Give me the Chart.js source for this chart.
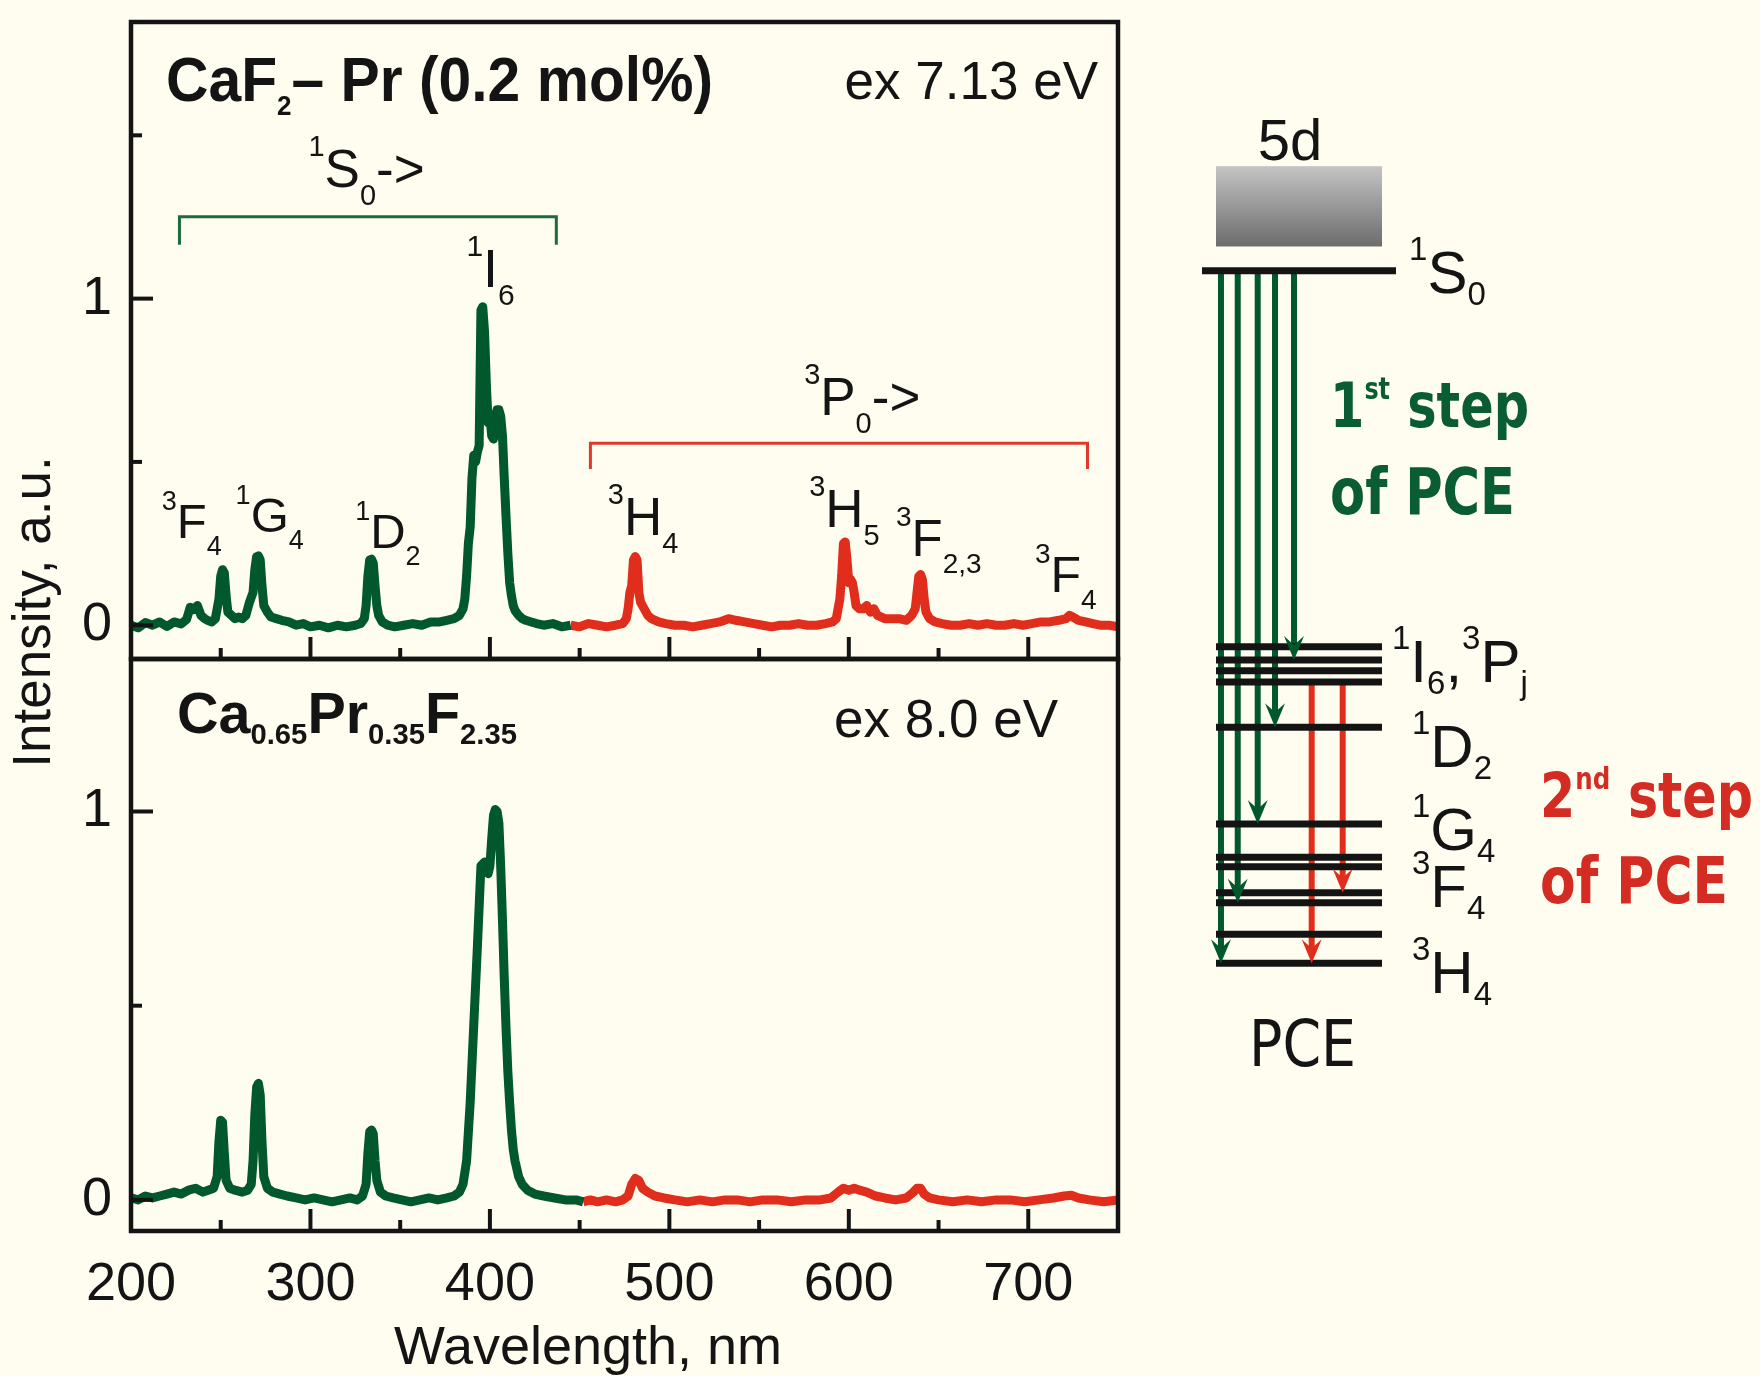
<!DOCTYPE html>
<html>
<head>
<meta charset="utf-8">
<script src="https://cdn.jsdelivr.net/npm/chart.js@4.4.0/dist/chart.umd.min.js"></script>
<style>
  html, body { margin: 0; padding: 0; background: #fffdf0; }
  #wrap { position: relative; width: 1760px; height: 1376px; }
  #wrap canvas { position: absolute; left: 0; top: 0; }
</style>
</head>
<body>
<div id="wrap">
  <canvas id="topChart" width="1760" height="1376"></canvas>
  <canvas id="bottomChart" width="1760" height="1376"></canvas>
  <canvas id="levelChart" width="1760" height="1376"></canvas>
</div>
<script>
const FONT = "'Liberation Sans', Arial, Helvetica, sans-serif";
const COMIC = "'DejaVu Sans', sans-serif";
const GREEN = '#00582c';
const RED = '#e02d1c';
const INK = '#141414';

// CaF2-Pr (0.2 mol%), ex 7.13 eV : [wavelength nm, intensity]
const topGreen = [[200,0.000],[204,-0.008],[208,0.008],[212,0.000],[216,0.010],[220,-0.004],[224,0.010],[228,0.004],
  [231,0.018],[233,0.055],[235,0.048],[237,0.060],[239,0.030],[241,0.020],[243,0.014],[245,0.010],[247,0.020],
  [249,0.080],[250,0.150],[251,0.170],[252,0.160],[253,0.090],[254,0.040],[256,0.030],[258,0.020],[260,0.025],
  [262,0.020],[264,0.030],[266,0.070],[268,0.100],[269,0.170],[270,0.210],[271,0.212],[272,0.200],[273,0.120],
  [274,0.060],[276,0.040],[278,0.025],[281,0.020],[284,0.015],[288,0.010],[292,0.000],[296,0.005],[300,-0.005],
  [305,0.000],[310,-0.008],[315,0.000],[320,-0.005],[325,0.000],[328,0.005],[330,0.020],[331,0.060],[332,0.150],
  [333,0.200],[334,0.202],[335,0.190],[336,0.120],[337,0.060],[338,0.030],[340,0.010],[343,0.000],[347,-0.005],
  [352,0.000],[357,0.005],[362,0.000],[367,0.010],[372,0.010],[376,0.015],[380,0.020],[383,0.030],[385,0.050],
  [386,0.080],[387,0.150],[388,0.250],[389,0.300],[390,0.450],[391,0.520],[392,0.500],[393,0.530],[394,0.550],
  [395,0.965],[396,0.975],[397,0.900],[398,0.740],[399,0.620],[400,0.640],[401,0.580],[402,0.570],[403,0.640],
  [404,0.660],[405,0.660],[406,0.640],[407,0.580],[408,0.450],[409,0.330],[410,0.220],[411,0.130],[412,0.090],
  [413,0.060],[414,0.045],[416,0.030],[418,0.020],[420,0.015],[423,0.010],[426,0.005],[430,0.000],[435,0.005],
  [440,-0.005],[445,0.000]];
const topRed = [[445,0.000],[450,-0.005],[455,0.005],[460,0.000],[465,-0.005],[470,0.000],[474,0.005],[476,0.020],
  [477,0.050],[478,0.100],[479,0.120],[480,0.200],[481,0.210],[482,0.200],[483,0.100],[484,0.070],[486,0.050],
  [488,0.030],[490,0.020],[494,0.010],[498,0.005],[503,0.000],[508,0.000],[513,-0.005],[518,0.000],[523,0.005],
  [528,0.010],[533,0.020],[537,0.015],[542,0.010],[547,0.005],[552,0.000],[557,-0.005],[562,0.000],[567,0.000],
  [572,0.005],[577,0.000],[582,0.000],[587,0.005],[591,0.010],[593,0.020],[595,0.080],[596,0.150],[597,0.250],
  [598,0.255],[599,0.200],[600,0.130],[601,0.140],[602,0.130],[603,0.100],[604,0.060],[606,0.050],[608,0.050],
  [610,0.060],[612,0.040],[614,0.050],[616,0.030],[620,0.020],[624,0.020],[628,0.020],[632,0.015],[635,0.030],
  [637,0.050],[638,0.100],[639,0.150],[640,0.155],[641,0.140],[642,0.080],[643,0.040],[645,0.020],[648,0.010],
  [652,0.005],[657,0.000],[662,0.000],[667,0.005],[672,0.000],[677,0.005],[682,0.000],[687,0.000],[692,0.005],
  [697,0.000],[702,0.005],[707,0.010],[712,0.010],[717,0.015],[721,0.020],[723,0.030],[725,0.025],[728,0.015],
  [732,0.010],[736,0.005],[740,0.000],[745,0.000],[750,-0.005]];

// Ca0.65Pr0.35F2.35, ex 8.0 eV
const botGreen = [[200,0.005],[204,0.000],[208,0.010],[212,0.005],[216,0.010],[220,0.015],[224,0.020],[228,0.015],
  [232,0.025],[236,0.030],[240,0.020],[243,0.025],[246,0.030],[248,0.060],[249,0.150],[250,0.205],[251,0.200],
  [252,0.120],[253,0.050],[255,0.030],[258,0.025],[262,0.020],[265,0.025],[267,0.040],[268,0.100],[269,0.220],
  [270,0.290],[271,0.300],[272,0.270],[273,0.150],[274,0.060],[276,0.030],[279,0.020],[283,0.015],[287,0.010],
  [292,0.005],[297,0.000],[302,0.005],[307,0.000],[312,-0.005],[317,0.000],[322,0.005],[326,0.000],[329,0.010],
  [331,0.040],[332,0.120],[333,0.175],[334,0.180],[335,0.170],[336,0.100],[337,0.050],[339,0.020],[342,0.010],
  [346,0.005],[351,0.000],[356,-0.005],[361,0.000],[366,0.005],[371,0.000],[376,0.005],[380,0.010],[383,0.020],
  [385,0.040],[387,0.100],[389,0.250],[391,0.450],[393,0.650],[395,0.860],[397,0.870],[399,0.840],[400,0.860],
  [401,0.930],[402,0.990],[403,1.005],[404,1.000],[405,0.970],[406,0.860],[407,0.720],[408,0.570],[409,0.440],
  [410,0.330],[411,0.250],[412,0.180],[413,0.130],[414,0.100],[416,0.060],[418,0.040],[421,0.025],[425,0.015],
  [430,0.010],[436,0.005],[442,0.000],[448,0.000],[452,-0.005]];
const botRed = [[452,-0.005],[456,0.000],[460,-0.005],[465,0.000],[470,-0.005],[474,0.000],[477,0.010],[479,0.040],
  [481,0.055],[483,0.050],[485,0.030],[488,0.020],[492,0.010],[497,0.005],[503,0.000],[510,-0.005],[517,0.000],
  [524,-0.005],[531,0.000],[538,0.000],[545,-0.005],[552,0.000],[560,0.000],[568,-0.005],[576,0.000],[584,0.000],
  [590,0.005],[594,0.020],[597,0.030],[600,0.025],[603,0.030],[606,0.025],[610,0.020],[615,0.010],[620,0.005],
  [626,0.000],[632,0.005],[636,0.020],[638,0.030],[640,0.030],[642,0.015],[645,0.005],[650,0.000],[658,-0.005],
  [666,0.000],[674,-0.005],[682,0.000],[690,0.000],[698,-0.005],[706,0.000],[714,0.005],[720,0.010],[724,0.012],
  [728,0.005],[734,0.000],[742,-0.005],[750,0.000]];

const xTicks = [200, 300, 400, 500, 600, 700];
const xMinor = [250, 350, 450, 550, 650, 750];
const topYTicks = [0, 1];
const topYMinor = [0.5, 1.5];
const botYTicks = [0, 1];
const botYMinor = [0.5];

// brackets: [from nm, to nm, top, leg end]
const s0Bracket = [227, 437, 1.251, 1.165];
const p0Bracket = [456, 733, 0.557, 0.478];

// transition labels on the top panel: start nm, baseline intensity, size, parts
const topLabels = [
  { nm: 217.1, v: 0.267, size: 49, parts: [['3','^'],['F'],['4','_']] },
  { nm: 258.3, v: 0.285, size: 49, parts: [['1','^'],['G'],['4','_']] },
  { nm: 324.9, v: 0.236, size: 49, parts: [['1','^'],['D'],['2','_']] },
  { nm: 386.9, v: 1.036, size: 54, parts: [['1','^'],['I'],['6','_']] },
  { nm: 465.7, v: 0.276, size: 53, parts: [['3','^'],['H'],['4','_']] },
  { nm: 577.9, v: 0.301, size: 53, parts: [['3','^'],['H'],['5','_']] },
  { nm: 626.3, v: 0.212, size: 51, parts: [['3','^'],['F'],['2,3','_']] },
  { nm: 703.7, v: 0.102, size: 50, parts: [['3','^'],['F'],['4','_']] },
  { nm: 298.9, v: 1.342, size: 53, parts: [['1','^'],['S'],['0','_'],['->']] },
  { nm: 575.1, v: 0.644, size: 53, parts: [['3','^'],['P'],['0','_'],['->']] }
];

// energy level scheme (diagram units, 3H4 = 0, 1S0 = 100)
const levelNames = ['3H4','3H5','3H6','3F2','3F3','3F4','1G4','1D2','3P0','3P1','1I6','3P2','1S0'];
const levelE = [0, 4.19, 8.75, 10.19, 13.95, 15.30, 20.10, 34.07, 40.61, 42.24, 43.79, 45.71, 100];
const levelSpan = [13.65, 40.0];
const s0Span = [11.43, 42.22];
const band5d = [103.5, 115.1];
const step1X = [14.44, 17.10, 20.27, 23.02, 26.03];
const step1To = [0, 8.75, 20.10, 34.07, 43.79];
const step2X = [28.84, 33.76];
const step2From = [40.61, 40.5];
const step2To = [0, 10.19];

const levelLabels = [
  { x: 44.29, y: 96.78, parts: [['1','^'],['S'],['0','_']] },
  { x: 41.59, y: 40.62, parts: [['1','^'],['I'],['6','_'],[','],['3','^'],['P'],['j','_']] },
  { x: 44.76, y: 28.34, parts: [['1','^'],['D'],['2','_']] },
  { x: 44.76, y: 16.36, parts: [['1','^'],['G'],['4','_']] },
  { x: 44.76, y: 8.13, parts: [['3','^'],['F'],['4','_']] },
  { x: 44.76, y: -4.29, parts: [['3','^'],['H'],['4','_']] }
];

function drawParts(ctx, x, y, parts, fitWidth) {
  let total = 0;
  parts.forEach(p => { ctx.font = p.f; total += ctx.measureText(p.t).width; });
  const sx = fitWidth ? fitWidth / total : 1;
  ctx.save();
  ctx.translate(x, y);
  ctx.scale(sx, 1);
  ctx.textAlign = 'left';
  ctx.textBaseline = 'alphabetic';
  let cx = 0;
  parts.forEach(p => {
    ctx.font = p.f;
    ctx.fillText(p.t, cx, p.dy || 0);
    cx += ctx.measureText(p.t).width;
  });
  ctx.restore();
}

function termParts(size, spec, supDy, subDy, family, weight) {
  const w = weight ? weight + ' ' : '';
  const small = Math.round(size * 0.55);
  return spec.map(([t, r]) => {
    if (r === '^') return { t, f: w + small + 'px ' + family, dy: supDy };
    if (r === '_') return { t, f: w + small + 'px ' + family, dy: subDy };
    return { t, f: w + size + 'px ' + family, dy: 0 };
  });
}

const decoPlugin = {
  id: 'deco',
  afterDraw(chart, args, opts) {
    const ctx = chart.ctx;
    const a = chart.chartArea;
    const xs = chart.scales.x, ys = chart.scales.y;
    ctx.save();
    ctx.strokeStyle = INK;
    ctx.fillStyle = INK;
    ctx.lineWidth = 4;
    const tick = (x1, y1, x2, y2) => { ctx.beginPath(); ctx.moveTo(x1, y1); ctx.lineTo(x2, y2); ctx.stroke(); };
    xTicks.forEach(v => { const p = xs.getPixelForValue(v); tick(p, a.bottom, p, a.bottom - 22); });
    xMinor.forEach(v => { const p = xs.getPixelForValue(v); tick(p, a.bottom, p, a.bottom - 11); });
    opts.yMajor.forEach(v => { const p = ys.getPixelForValue(v); tick(a.left, p, a.left + 22, p); });
    opts.yMinor.forEach(v => { const p = ys.getPixelForValue(v); tick(a.left, p, a.left + 11, p); });
    ctx.lineWidth = 4.5;
    ctx.strokeRect(a.left, a.top, a.right - a.left, a.bottom - a.top);

    (opts.labels || []).forEach(l => {
      drawParts(ctx, xs.getPixelForValue(l.nm), ys.getPixelForValue(l.v),
        termParts(l.size, l.parts, -0.58 * l.size, 0.34 * l.size, FONT, ''));
    });
    (opts.titles || []).forEach(t => {
      drawParts(ctx, a.left + t.dx, a.top + t.dy, t.parts, t.fit);
    });
    (opts.notes || []).forEach(n => {
      ctx.font = '53px ' + FONT;
      ctx.textAlign = 'right';
      ctx.textBaseline = 'alphabetic';
      ctx.fillText(n.text, a.right - n.dx, a.top + n.dy);
    });
    if (opts.yTitle) {
      ctx.save();
      ctx.translate(50, 612);
      ctx.rotate(-Math.PI / 2);
      ctx.font = '53px ' + FONT;
      ctx.textAlign = 'center';
      ctx.textBaseline = 'alphabetic';
      ctx.fillText('Intensity, a.u.', 0, 0);
      ctx.restore();
    }
    if (opts.xTitle) {
      ctx.font = '54px ' + FONT;
      ctx.textAlign = 'center';
      ctx.textBaseline = 'alphabetic';
      ctx.fillText('Wavelength, nm', 588, 1364);
    }
    ctx.restore();
  }
};

function series(pairs, color) {
  return {
    data: pairs.map(([x, y]) => ({ x, y })),
    borderColor: color, borderWidth: 9, pointRadius: 0,
    borderJoinStyle: 'round', tension: 0, fill: false
  };
}
function bracket(b, color) {
  return {
    data: [{ x: b[0], y: b[3] }, { x: b[0], y: b[2] }, { x: b[1], y: b[2] }, { x: b[1], y: b[3] }],
    borderColor: color, borderWidth: 3, pointRadius: 0, tension: 0, fill: false
  };
}

function spectrumChart(id, cfg) {
  return new Chart(document.getElementById(id), {
    type: 'line',
    data: { datasets: cfg.datasets },
    options: {
      responsive: false,
      animation: false,
      events: [],
      layout: { padding: cfg.padding },
      plugins: { legend: { display: false }, tooltip: { enabled: false }, deco: cfg.deco },
      scales: {
        x: {
          type: 'linear', min: 200, max: 750, display: cfg.showX,
          grid: { display: false, drawTicks: false }, border: { display: false },
          ticks: { font: { family: FONT, size: 54 }, color: INK, padding: 22, maxRotation: 0 },
          afterBuildTicks: s => { s.ticks = xTicks.map(v => ({ value: v })); },
          afterFit: s => { s.height = cfg.xHeight; s.paddingLeft = 0; s.paddingRight = 0; }
        },
        y: {
          type: 'linear', min: cfg.yMin, max: cfg.yMax,
          grid: { display: false, drawTicks: false }, border: { display: false },
          ticks: { font: { family: FONT, size: 54 }, color: INK, padding: 19 },
          afterBuildTicks: s => { s.ticks = cfg.yTicks.map(v => ({ value: v })); },
          afterFit: s => { s.width = 131; s.paddingTop = 0; s.paddingBottom = 0; }
        }
      }
    },
    plugins: [decoPlugin]
  });
}

spectrumChart('topChart', {
  datasets: [series(topGreen, GREEN), series(topRed, RED), bracket(s0Bracket, '#1b6b3b'), bracket(p0Bracket, '#e0392b')],
  padding: { left: 0, top: 22, right: 642, bottom: 717 },
  showX: false, xHeight: 0,
  yMin: -0.1035, yMax: 1.847, yTicks: topYTicks,
  deco: {
    yMajor: topYTicks, yMinor: topYMinor, labels: topLabels, yTitle: true,
    titles: [{ dx: 35, dy: 79, fit: 547, parts: [
      { t: 'CaF', f: 'bold 63px ' + FONT },
      { t: '2', f: 'bold 28px ' + FONT, dy: 14 },
      { t: '– Pr (0.2 mol%)', f: 'bold 63px ' + FONT }] }],
    notes: [{ text: 'ex 7.13 eV', dx: 20, dy: 77 }]
  }
});

spectrumChart('bottomChart', {
  datasets: [series(botGreen, GREEN), series(botRed, RED)],
  padding: { left: 0, top: 659, right: 642, bottom: 0 },
  showX: true, xHeight: 145,
  yMin: -0.0801, yMax: 1.3926, yTicks: botYTicks,
  deco: {
    yMajor: botYTicks, yMinor: botYMinor, xTitle: true,
    titles: [{ dx: 46, dy: 74, fit: 340, parts: [
      { t: 'Ca', f: 'bold 57px ' + FONT },
      { t: '0.65', f: 'bold 29px ' + FONT, dy: 11 },
      { t: 'Pr', f: 'bold 57px ' + FONT },
      { t: '0.35', f: 'bold 29px ' + FONT, dy: 11 },
      { t: 'F', f: 'bold 57px ' + FONT },
      { t: '2.35', f: 'bold 29px ' + FONT, dy: 11 }] }],
    notes: [{ text: 'ex 8.0 eV', dx: 60, dy: 78 }]
  }
});

// ---- energy level scheme ----
const levelSets = levelE.map((e, i) => {
  const span = levelNames[i] === '1S0' ? s0Span : levelSpan;
  return { data: [{ x: span[0], y: e }, { x: span[1], y: e }], borderColor: INK, borderWidth: 7, pointRadius: 0, borderCapStyle: 'butt' };
});
const arrowSets = [];
step1X.forEach((x, i) => arrowSets.push({
  data: [{ x, y: 100 }, { x, y: step1To[i] + 2 }], borderColor: GREEN, borderWidth: 6, pointRadius: 0, head: step1To[i]
}));
step2X.forEach((x, i) => arrowSets.push({
  data: [{ x, y: step2From[i] }, { x, y: step2To[i] + 2 }], borderColor: RED, borderWidth: 6, pointRadius: 0, head: step2To[i]
}));

const schemePlugin = {
  id: 'scheme',
  beforeDatasetsDraw(chart) {
    const ctx = chart.ctx, xs = chart.scales.x, ys = chart.scales.y;
    const x0 = xs.getPixelForValue(levelSpan[0]), x1 = xs.getPixelForValue(levelSpan[1]);
    const y0 = ys.getPixelForValue(band5d[1]), y1 = ys.getPixelForValue(band5d[0]);
    const g = ctx.createLinearGradient(0, y0, 0, y1);
    g.addColorStop(0, '#c4c4c4');
    g.addColorStop(1, '#6c6c6c');
    ctx.save();
    ctx.fillStyle = g;
    ctx.fillRect(x0, y0, x1 - x0, y1 - y0);
    ctx.restore();
  },
  afterDatasetsDraw(chart) {
    const ctx = chart.ctx, xs = chart.scales.x, ys = chart.scales.y;
    ctx.save();
    chart.data.datasets.forEach(ds => {
      if (ds.head === undefined) return;
      const px = xs.getPixelForValue(ds.data[0].x), py = ys.getPixelForValue(ds.head);
      ctx.fillStyle = ds.borderColor;
      ctx.beginPath();
      ctx.moveTo(px, py);
      ctx.lineTo(px - 10, py - 24);
      ctx.lineTo(px, py - 15);
      ctx.lineTo(px + 10, py - 24);
      ctx.closePath();
      ctx.fill();
    });
    ctx.fillStyle = INK;
    ctx.font = '58px ' + FONT;
    ctx.textAlign = 'center';
    ctx.textBaseline = 'alphabetic';
    ctx.fillText('5d', xs.getPixelForValue(25.4), ys.getPixelForValue(115.98));
    levelLabels.forEach(l => {
      drawParts(ctx, xs.getPixelForValue(l.x), ys.getPixelForValue(l.y), termParts(60, l.parts, -33, 12, FONT, ''));
    });
    const step = (x, y, color, parts, fit) => { ctx.fillStyle = color; drawParts(ctx, xs.getPixelForValue(x), ys.getPixelForValue(y), parts, fit); };
    const cf = (s, w) => (w || 'bold') + ' ' + s + 'px ' + COMIC;
    step(31.75, 77.43, '#0a5c33', [{ t: '1', f: cf(62) }, { t: 'st', f: cf(30), dy: -28 }, { t: ' step', f: cf(62) }], 199);
    step(31.75, 64.87, '#0a5c33', [{ t: 'of PCE', f: cf(64) }], 185);
    step(65.08, 21.12, '#d42b23', [{ t: '2', f: cf(62) }, { t: 'nd', f: cf(30), dy: -28 }, { t: ' step', f: cf(62) }], 213);
    step(65.08, 8.71, '#d42b23', [{ t: 'of PCE', f: cf(64) }], 188);
    step(18.89, -14.83, INK, [{ t: 'PCE', f: cf(64, 'normal') }], 107);
    ctx.restore();
  }
};

new Chart(document.getElementById('levelChart'), {
  type: 'line',
  data: { datasets: levelSets.concat(arrowSets) },
  options: {
    responsive: false,
    animation: false,
    events: [],
    layout: { padding: { left: 1130, top: 0, right: 0, bottom: 0 } },
    plugins: { legend: { display: false }, tooltip: { enabled: false } },
    scales: {
      x: { type: 'linear', min: 0, max: 100, display: false },
      y: { type: 'linear', min: -59.59, max: 139.09, display: false }
    }
  },
  plugins: [schemePlugin]
});
</script>
</body>
</html>
